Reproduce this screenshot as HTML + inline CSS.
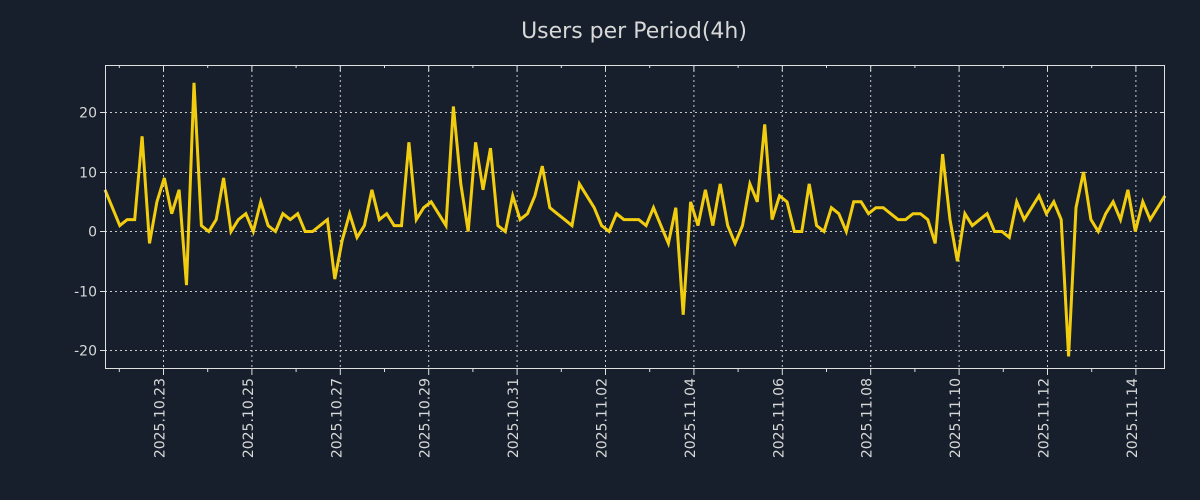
<!DOCTYPE html>
<html><head><meta charset="utf-8"><style>
html,body{margin:0;padding:0;background:#161f2b;}
svg{display:block;font-family:"DejaVu Sans","Liberation Sans",sans-serif;}
</style></head><body>
<svg id="s" width="1200" height="500" xmlns="http://www.w3.org/2000/svg">
<rect width="1200" height="500" fill="#161f2b"/>
<text x="634" y="38" fill="#d8d8d8" font-size="22" text-anchor="middle">Users per Period(4h)</text>
<g id="grid" stroke="#c8c8c8" stroke-width="1" stroke-dasharray="2,3" fill="none"></g>
<g id="ticks" stroke="#e0e0e0" stroke-width="1"></g>
<g id="lbl" fill="#d8d8d8" font-size="14"></g>
<polyline id="line" fill="none" stroke="#f2cd0f" stroke-width="3" stroke-linejoin="miter"/>
<rect x="105.5" y="65.5" width="1059" height="303" fill="none" stroke="#e0e0e0" stroke-width="1"/>
</svg>
<script>
var v=[7,4,1,2,2,16,-2,5,9,3,7,-9,25,1,0,2,9,0,2,3,0,5,1,0,3,2,3,0,0,1,2,-8,-1.5,3,-1,1,7,2,3,1,1,15,2,4,5,3,1,21,8,0,15,7,14,1,0,6,2,3,6,11,4,3,2,1,8,6,4,1,0,3,2,2,2,1,4,1,-2,4,-14,5,1,7,1,8,1,-2,1,8,5,18,2,6,5,0,0,8,1,0,4,3,0,5,5,3,4,4,3,2,2,3,3,2,-2,13,2,-5,3,1,2,3,0,0,-1,5,2,4,6,3,5,2,-21,4,10,2,0,3,5,2,7,0,5,2,4,6];
var n=v.length,pts=[];
for(var i=0;i<n;i++){pts.push((105+i*1060/(n-1)).toFixed(1)+","+(231.5-v[i]*5.95).toFixed(1));}
document.getElementById("line").setAttribute("points",pts.join(" "));
var NS="http://www.w3.org/2000/svg",g=document.getElementById("grid"),t=document.getElementById("ticks"),l=document.getElementById("lbl");
function el(p,tag,a,txt){var e=document.createElementNS(NS,tag);for(var k in a)e.setAttribute(k,a[k]);if(txt)e.textContent=txt;p.appendChild(e);}
var ys=[[20,112.5],[10,172.5],[0,231.5],[-10,291.5],[-20,350.5]];
ys.forEach(function(y){el(g,"line",{x1:105,x2:1165,y1:y[1],y2:y[1]});el(t,"line",{x1:105,x2:100,y1:y[1],y2:y[1]});el(t,"line",{x1:1165,x2:1160,y1:y[1],y2:y[1]});
el(l,"text",{x:97,y:y[1]+5,"text-anchor":"end"},String(y[0]));});
var d=["2025.10.23","2025.10.25","2025.10.27","2025.10.29","2025.10.31","2025.11.02","2025.11.04","2025.11.06","2025.11.08","2025.11.10","2025.11.12","2025.11.14"];
for(var k=-1;k<24;k++){var x=163.5+k*44.2;if(x<105||x>1165)continue;
 if(k%2==0){el(g,"line",{x1:x,x2:x,y1:65,y2:369});el(t,"line",{x1:x,x2:x,y1:369,y2:375});el(t,"line",{x1:x,x2:x,y1:65,y2:71});
  el(l,"text",{transform:"translate("+(x+1)+",378) rotate(-90)","text-anchor":"end"},d[k/2]);}
 else{el(t,"line",{x1:x,x2:x,y1:369,y2:372});el(t,"line",{x1:x,x2:x,y1:65,y2:68});}}
</script>
</body></html>
